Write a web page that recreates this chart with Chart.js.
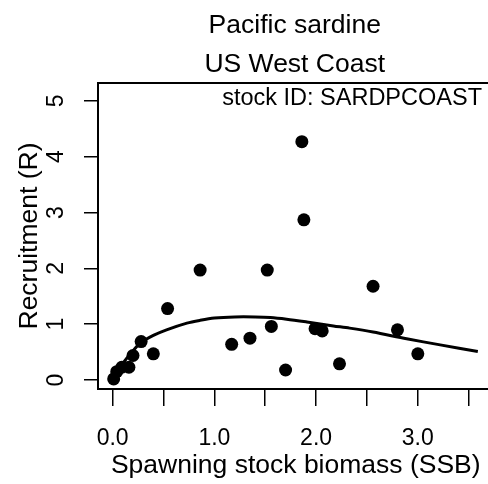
<!DOCTYPE html>
<html>
<head>
<meta charset="utf-8">
<script src="https://cdn.jsdelivr.net/npm/chart.js@4/dist/chart.umd.min.js"></script>
<style>
  html, body { margin: 0; padding: 0; background: #fff; overflow: hidden; }
  #wrap { width: 500px; height: 484px; }
</style>
</head>
<body>
<div id="wrap"><canvas id="srChart" width="500" height="484"></canvas></div>
<script>
// observed stock-recruitment pairs
const ssb = [0.01, 0.04, 0.09, 0.16, 0.20, 0.28, 0.40, 0.54, 0.86, 1.17, 1.35,
             1.52, 1.56, 1.70, 1.86, 1.88, 1.99, 2.06, 2.23, 2.56, 2.80, 3.00];
const recruits = [0.02, 0.15, 0.23, 0.23, 0.44, 0.69, 0.47, 1.28, 1.97, 0.64, 0.75,
                  1.97, 0.96, 0.18, 4.27, 2.87, 0.92, 0.88, 0.29, 1.68, 0.90, 0.47];

// fitted curve
const curveSSB = [0, 0.04, 0.10, 0.18, 0.27, 0.40, 0.53, 0.73, 0.86, 1.00, 1.20,
                  1.40, 1.55, 1.71, 1.91, 2.17, 2.33, 2.56, 2.89, 3.22, 3.59];
const curveR = [0, 0.14, 0.30, 0.48, 0.66, 0.80, 0.90, 1.02, 1.07, 1.11, 1.13,
                1.13, 1.12, 1.09, 1.04, 0.97, 0.93, 0.86, 0.74, 0.63, 0.51];

const xTickVals = [0, 0.5, 1, 1.5, 2, 2.5, 3, 3.5];
const yTickVals = [0, 1, 2, 3, 4, 5];

const titleLines = ["Pacific sardine", "US West Coast"];
const stockLabel = "stock ID: SARDPCOAST";
const xTitle = "Spawning stock biomass (SSB)";
const yTitle = "Recruitment (R)";

const FONT = "'Liberation Sans', Arial, sans-serif";

/* ============================
   TEXTO Y MARCO (estilo R)
============================ */
const rFrame = {
    id: "rFrame",
    afterDraw(chart) {
        const { ctx, chartArea: a, scales } = chart;
        const cx = (a.left + a.right) / 2;
        ctx.save();
        ctx.strokeStyle = "#000";
        ctx.lineWidth = 2;
        ctx.strokeRect(a.left, a.top, a.right - a.left, a.bottom - a.top);

        ctx.fillStyle = "#000";
        ctx.textAlign = "center";
        ctx.textBaseline = "alphabetic";
        ctx.font = "26.5px " + FONT;
        ctx.fillText(titleLines[0], cx - 1, 33);
        ctx.fillText(titleLines[1], cx - 1, 72);

        ctx.font = "23.5px " + FONT;
        ctx.textAlign = "right";
        ctx.fillText(stockLabel, 482, 105);

        // x axis title
        ctx.textAlign = "center";
        ctx.font = "26.5px " + FONT;
        ctx.fillText(xTitle, cx, 473);

        // y tick labels, rotated like R
        ctx.font = "23px " + FONT;
        yTickVals.forEach(v => {
            const y = scales.y.getPixelForValue(v);
            ctx.save();
            ctx.translate(63, y);
            ctx.rotate(-Math.PI / 2);
            ctx.fillText(String(v), 0, 0);
            ctx.restore();
        });

        // y axis title
        ctx.font = "26.5px " + FONT;
        ctx.save();
        ctx.translate(37, (a.top + a.bottom) / 2);
        ctx.rotate(-Math.PI / 2);
        ctx.fillText(yTitle, 0, 0);
        ctx.restore();
        ctx.restore();
    }
};

new Chart(document.getElementById("srChart"), {
    type: "scatter",
    data: {
        datasets: [{
            label: "observed",
            data: ssb.map((s, i) => ({ x: s, y: recruits[i] })),
            backgroundColor: "#000",
            borderWidth: 0,
            pointRadius: 6.5,
            pointHoverRadius: 6.5
        }, {
            label: "fit",
            type: "line",
            data: curveSSB.map((s, i) => ({ x: s, y: curveR[i] })),
            borderColor: "#000",
            borderWidth: 3,
            pointRadius: 0,
            tension: 0.3,
            fill: false
        }]
    },
    options: {
        responsive: false,
        animation: false,
        layout: { padding: { top: 83, right: 6, left: 0, bottom: 0 } },
        plugins: {
            legend: { display: false },
            tooltip: { enabled: false }
        },
        scales: {
            x: {
                type: "linear",
                min: -0.144,
                max: 3.744,
                afterBuildTicks: s => { s.ticks = xTickVals.map(v => ({ value: v })); },
                afterFit: s => { s.height = 95; },
                grid: { drawOnChartArea: false, color: "#000", lineWidth: 1.5, tickLength: 17 },
                border: { display: false },
                ticks: {
                    color: "#000",
                    font: { family: FONT, size: 23 },
                    padding: 19,
                    maxRotation: 0,
                    autoSkip: false,
                    callback: v => (v % 1 === 0 ? v.toFixed(1) : "")
                }
            },
            y: {
                type: "linear",
                min: -0.16,
                max: 5.32,
                afterBuildTicks: s => { s.ticks = yTickVals.map(v => ({ value: v })); },
                afterFit: s => { s.width = 98; },
                grid: { drawOnChartArea: false, color: "#000", lineWidth: 1.5, tickLength: 14 },
                border: { display: false },
                ticks: { display: false }
            }
        }
    },
    plugins: [rFrame]
});
</script>
</body>
</html>
